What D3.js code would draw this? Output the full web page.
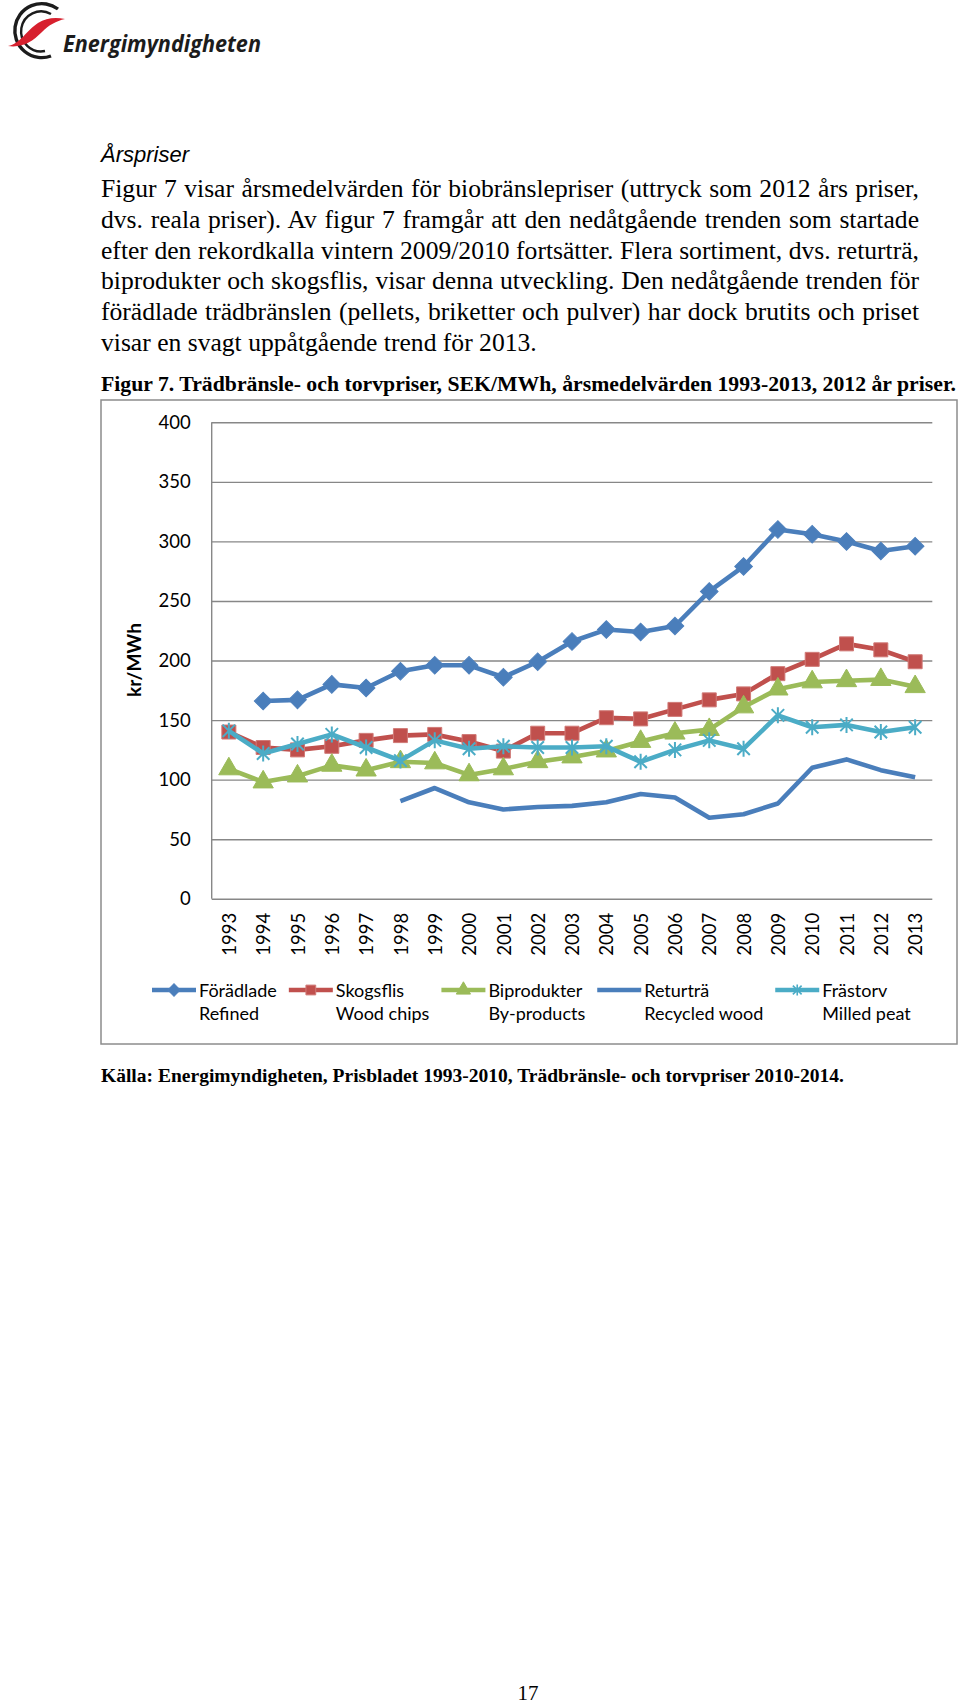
<!DOCTYPE html>
<html>
<head>
<meta charset="utf-8">
<script src="https://cdn.jsdelivr.net/npm/d3@7"></script>
<style>
  body { margin: 0; background: #fff; }
  svg { display: block; }
</style>
</head>
<body>
<svg id="page"></svg>
<script>
// Chart data (SEK/MWh, 2012 prices)
const years = ["1993", "1994", "1995", "1996", "1997", "1998", "1999", "2000", "2001", "2002",
               "2003", "2004", "2005", "2006", "2007", "2008", "2009", "2010", "2011", "2012", "2013"];
const refined = [null, 166, 167, 180, 177, 191, 196, 196, 186, 199, 216, 226, 224, 229, 258, 279, 310, 306, 300, 292, 296];
const woodChips = [140, 127, 125, 128, 133, 137, 138, 132, 124, 139, 139, 152, 151, 159, 167, 172, 189, 201, 214, 209, 199];
const byProducts = [109, 98, 103, 112, 108, 115, 114, 104, 109, 115, 119, 124, 132, 139, 142, 161, 176, 182, 183, 184, 178];
const recycledWood = [null, null, null, null, null, 82, 93, 81, 75, 77, 78, 81, 88, 85, 68, 71, 80, 110, 117, 108, 102];
const milledPeat = [141, 122, 130, 138, 127, 116, 133, 126, 128, 127, 127, 128, 115, 125, 133, 126, 154, 144, 146, 140, 144];
const yTicks = [0, 50, 100, 150, 200, 250, 300, 350, 400];
const seriesNames = ["Förädlade", "Skogsflis", "Biprodukter", "Returträ", "Frästorv"];
const seriesNamesEn = ["Refined", "Wood chips", "By-products", "Recycled wood", "Milled peat"];

// Page texts
const bodyLines = [
  "Figur 7 visar årsmedelvärden för biobränslepriser (uttryck som 2012 års priser,",
  "dvs. reala priser). Av figur 7 framgår att den nedåtgående trenden som startade",
  "efter den rekordkalla vintern 2009/2010 fortsätter. Flera sortiment, dvs. returträ,",
  "biprodukter och skogsflis, visar denna utveckling. Den nedåtgående trenden för",
  "förädlade trädbränslen (pellets, briketter och pulver) har dock brutits och priset",
  "visar en svagt uppåtgående trend för 2013."
];
const figTitle = "Figur 7. Trädbränsle- och torvpriser, SEK/MWh, årsmedelvärden 1993-2013, 2012 år priser.";
const sourceText = "Källa: Energimyndigheten, Prisbladet 1993-2010, Trädbränsle- och torvpriser 2010-2014.";

const width = 960, height = 1708;
const svg = d3.select("#page").attr("width", width).attr("height", height);
svg.append("rect").attr("width", width).attr("height", height).attr("fill", "#fff");

// ---- Logo ----
const logo = svg.append("g");
logo.append("path")
    .attr("d", "M58,9 A27,27 0 1 0 51,56")
    .attr("fill", "none").attr("stroke", "#1c1c1c").attr("stroke-width", 3.4);
logo.append("path")
    .attr("d", "M51,14 A20,20 0 1 0 45,51")
    .attr("fill", "none").attr("stroke", "#1c1c1c").attr("stroke-width", 2.4);
logo.append("path")
    .attr("d", "M8,46 C20,44 27,30 38,23 C46,18 55,17 65,19 C56,21 49,25 42,32 C32,42 22,48 8,46 Z")
    .attr("fill", "#d7202e");
logo.append("text")
    .attr("x", 63).attr("y", 52)
    .attr("font-family", "'Open Sans', sans-serif")
    .attr("font-style", "italic").attr("font-weight", 700)
    .attr("font-size", 23)
    .attr("textLength", 198).attr("lengthAdjust", "spacingAndGlyphs")
    .attr("fill", "#1c1c1c")
    .text("Energimyndigheten");

// ---- Heading and body text ----
svg.append("text")
    .attr("x", 101).attr("y", 162)
    .attr("font-family", "'Liberation Sans', Arial, sans-serif")
    .attr("font-style", "italic").attr("font-size", 22)
    .text("Årspriser");

const textLeft = 101, textRight = 919;
svg.selectAll("text.body")
  .data(bodyLines)
  .join("text")
    .attr("class", "body")
    .attr("x", textLeft)
    .attr("y", (d, i) => 197 + i * 30.8)
    .attr("font-family", "'Liberation Serif', 'Times New Roman', serif")
    .attr("font-size", 25.6)
    .text(d => d)
    .each(function (d, i) {
      // justify all but the last line by widening word spaces
      if (i === bodyLines.length - 1) return;
      const spaces = d.split(" ").length - 1;
      const extra = (textRight - textLeft) - this.getComputedTextLength();
      d3.select(this).attr("word-spacing", extra / spaces);
    });

svg.append("text")
    .attr("x", 101).attr("y", 391)
    .attr("font-family", "'Liberation Serif', 'Times New Roman', serif")
    .attr("font-weight", "bold").attr("font-size", 21)
    .attr("textLength", 855).attr("lengthAdjust", "spacingAndGlyphs")
    .text(figTitle);

// ---- Chart ----
const frame = { left: 101, top: 400, right: 957, bottom: 1044 };
svg.append("rect")
    .attr("x", frame.left).attr("y", frame.top)
    .attr("width", frame.right - frame.left).attr("height", frame.bottom - frame.top)
    .attr("fill", "#fff").attr("stroke", "#8c8c8c").attr("stroke-width", 1.5);

const plot = { left: 211.7, right: 932.3, top: 422.3, bottom: 898.8 };
const x = d3.scalePoint().domain(years).range([plot.left, plot.right]).padding(0.5);
const y = d3.scaleLinear().domain([0, 400]).range([plot.bottom, plot.top]);

const font = "Lato, 'Open Sans', sans-serif";

// y axis with gridlines
const yAxis = svg.append("g")
    .attr("transform", `translate(${plot.left},0)`)
    .call(d3.axisLeft(y).tickValues(yTicks).tickSize(-(plot.right - plot.left)).tickPadding(21));
yAxis.select(".domain").remove();
yAxis.selectAll(".tick line").attr("stroke", "#878787").attr("stroke-width", 1.4);
yAxis.selectAll(".tick text")
    .attr("font-family", font).attr("font-size", 18.5).attr("fill", "#000");
svg.append("line")
    .attr("x1", plot.left).attr("x2", plot.left)
    .attr("y1", plot.top).attr("y2", plot.bottom)
    .attr("stroke", "#878787").attr("stroke-width", 1.4);

// x axis, rotated year labels
const xAxis = svg.append("g")
    .attr("transform", `translate(0,${plot.bottom})`)
    .call(d3.axisBottom(x).tickSize(0).tickPadding(0));
xAxis.select(".domain").remove();
xAxis.selectAll(".tick text")
    .attr("font-family", font).attr("font-size", 18.5).attr("fill", "#000")
    .attr("transform", "rotate(-90)")
    .attr("text-anchor", "end")
    .attr("x", -14).attr("y", 0).attr("dy", "0.36em");

svg.append("text")
    .attr("transform", "translate(141,660) rotate(-90)")
    .attr("text-anchor", "middle")
    .attr("font-family", font).attr("font-weight", "bold").attr("font-size", 19)
    .text("kr/MWh");

// marker shapes
const starPath = r => `M0,${-r}L0,${r}M${-r * 0.78},${-r * 0.78}L${r * 0.78},${r * 0.78}M${-r * 0.78},${r * 0.78}L${r * 0.78},${-r * 0.78}`;
const markers = {
  diamond: (g, s) => g.append("path").attr("d", d3.symbol(d3.symbolSquare, s * s)()).attr("transform", "rotate(45)"),
  square: (g, s) => g.append("path").attr("d", d3.symbol(d3.symbolSquare, s * s)()),
  triangle: (g, s) => g.append("path").attr("d", d3.symbol(d3.symbolTriangle, s * s * 0.55)()),
  star: (g, s) => g.append("path").attr("d", starPath(s / 2)).attr("fill", "none")
};

const series = [
  { values: refined, color: "#4a7ebb", marker: "diamond", size: 12.5, edge: "#4f81bd" },
  { values: woodChips, color: "#c0504d", marker: "square", size: 14, edge: "#d07a77" },
  { values: byProducts, color: "#9bbb59", marker: "triangle", size: 18, edge: "#9bbb59" },
  { values: recycledWood, color: "#4a7ebb", marker: null },
  { values: milledPeat, color: "#4bacc6", marker: "star", size: 16, edge: "#4bacc6" }
];

const line = d3.line()
    .defined(d => d.v != null)
    .x(d => x(d.year))
    .y(d => y(d.v));

series.forEach(s => {
  const pts = years.map((yr, i) => ({ year: yr, v: s.values[i] }));
  const g = svg.append("g");
  g.append("path")
      .datum(pts)
      .attr("d", line)
      .attr("fill", "none")
      .attr("stroke", s.color)
      .attr("stroke-width", 4.6)
      .attr("stroke-linejoin", "round");
  if (!s.marker) return;
  pts.filter(d => d.v != null).forEach(d => {
    const m = g.append("g").attr("transform", `translate(${x(d.year)},${y(d.v)})`);
    const p = markers[s.marker](m, s.size);
    if (s.marker === "star") {
      p.attr("stroke", s.color).attr("stroke-width", 2);
    } else {
      p.attr("fill", s.color).attr("stroke", s.edge).attr("stroke-width", 1);
    }
  });
});

// ---- Legend ----
const legendY = 990;
const legend = svg.append("g").attr("font-family", font).attr("font-size", 18);
let lx = 152;
series.forEach((s, i) => {
  const g = legend.append("g").attr("transform", `translate(${lx},${legendY})`);
  g.append("line").attr("x1", 0).attr("x2", 44)
      .attr("stroke", s.color).attr("stroke-width", 4.6);
  if (s.marker) {
    const m = g.append("g").attr("transform", "translate(22,0)");
    const p = markers[s.marker](m, s.size * 0.7);
    if (s.marker === "star") p.attr("stroke", s.color).attr("stroke-width", 1.6);
    else p.attr("fill", s.color).attr("stroke", s.edge);
  }
  const t1 = g.append("text").attr("x", 47).attr("y", 6.5).text(seriesNames[i]);
  const t2 = g.append("text").attr("x", 47).attr("y", 29.5).text(seriesNamesEn[i]);
  const w = Math.max(t1.node().getComputedTextLength(), t2.node().getComputedTextLength());
  lx += 47 + w + 12;
});

// ---- Source and page number ----
svg.append("text")
    .attr("x", 101).attr("y", 1082)
    .attr("font-family", "'Liberation Serif', 'Times New Roman', serif")
    .attr("font-weight", "bold").attr("font-size", 19)
    .attr("textLength", 743).attr("lengthAdjust", "spacingAndGlyphs")
    .text(sourceText);

svg.append("text")
    .attr("x", 528).attr("y", 1700)
    .attr("text-anchor", "middle")
    .attr("font-family", "'Liberation Serif', 'Times New Roman', serif")
    .attr("font-size", 21)
    .text("17");
</script>
</body>
</html>
